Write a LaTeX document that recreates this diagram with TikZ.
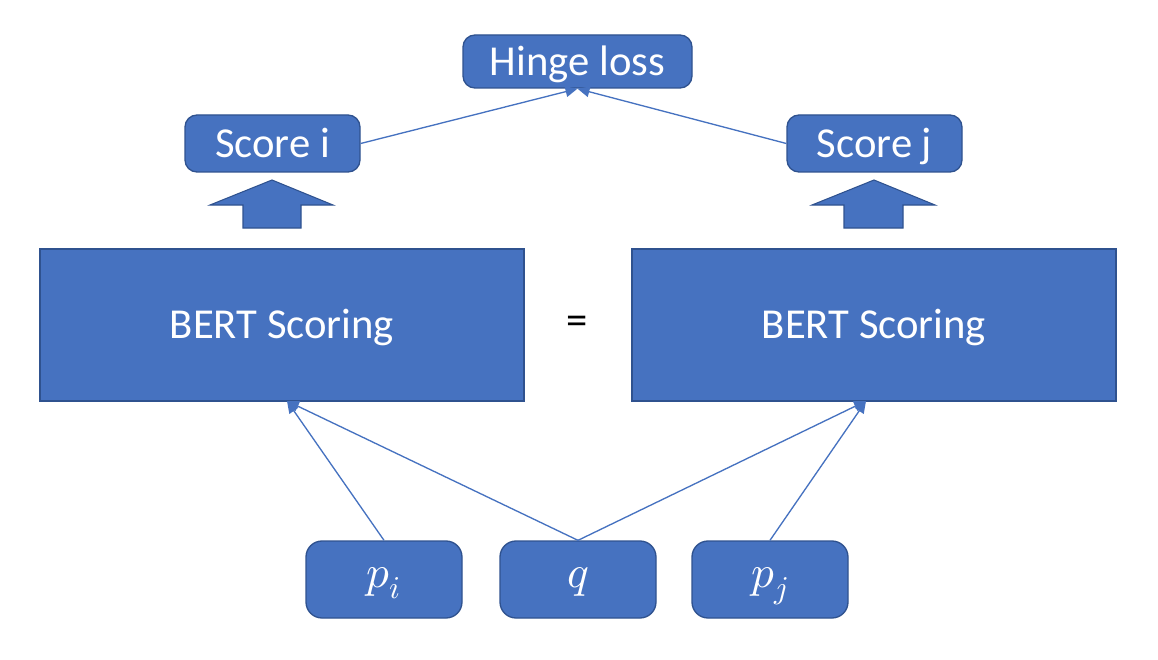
\documentclass[tikz,border=0pt]{standalone}
\usepackage{fontspec}
\usepackage{unicode-math}
\setmainfont{Carlito}
\setmathfont{Latin Modern Math}
\usetikzlibrary{arrows.meta}
\definecolor{obl}{RGB}{70,114,192}
\definecolor{obd}{RGB}{47,82,143}
\tikzset{
  box/.style={draw=obd, line width=1pt, fill=obl, text=white, font=\fontsize{32}{38}\selectfont, inner sep=0pt, rounded corners=9pt, text height=26pt, text depth=5.4pt},
  bigbox/.style={draw=obd, line width=1pt, fill=obl, text=white, font=\fontsize{32}{38}\selectfont, inner sep=0pt, text height=26pt, text depth=5.4pt},
  mbox/.style={box, rounded corners=12pt, minimum width=117pt, minimum height=57.75pt, font=\fontsize{34}{40}\selectfont, text height=20pt, text depth=8pt},
  conn/.style={draw=obl, line width=1pt, -{Triangle[length=9pt,width=8pt]}},
  blockarrow/.style={draw=obd, line width=0.8pt, fill=obl}
}
\begin{document}
\begin{tikzpicture}[x=0.75pt,y=-0.75pt]
\useasboundingbox (0,0) rectangle (1158,660);
% top
\node[box, minimum width=171.75pt, minimum height=39.75pt] (hinge) at (577.5,61.5) {Hinge loss};
\node[box, minimum width=131.25pt, minimum height=42.75pt] (si) at (272.5,143.5) {Score i};
\node[box, minimum width=131.25pt, minimum height=42.75pt] (sj) at (874.5,143.5) {Score j};
% block arrows
\draw[blockarrow] (272,180) -- (333,205) -- (301,205) -- (301,228) -- (243,228) -- (243,205) -- (210,205) -- cycle;
\draw[blockarrow] (874,180) -- (935,205) -- (903,205) -- (903,228) -- (844,228) -- (844,205) -- (812,205) -- cycle;
% BERT boxes
\node[bigbox, minimum width=363pt, minimum height=114pt] (bl) at (282,325) {BERT Scoring};
\node[bigbox, minimum width=363pt, minimum height=114pt] (br) at (874,325) {BERT Scoring};
\node[font=\fontsize{32}{38}\selectfont, inner sep=0pt] (eq) at (577,325) {=};
% bottom
\node[mbox] (pi) at (384,579.5) {$p_i$};
\node[mbox] (q) at (578,579.5) {$q$};
\node[mbox] (pj) at (770,579.5) {$p_j$};
% connectors
\coordinate (blin) at (287,401);
\coordinate (brin) at (866,401);
\draw[conn] (pi.north) -- (blin);
\draw[conn] (q.north) -- (blin);
\draw[conn] (q.north) -- (brin);
\draw[conn] (pj.north) -- (brin);
\draw[conn] (si.east) -- (hinge.south);
\draw[conn] (sj.west) -- (hinge.south);
\end{tikzpicture}
\end{document}
